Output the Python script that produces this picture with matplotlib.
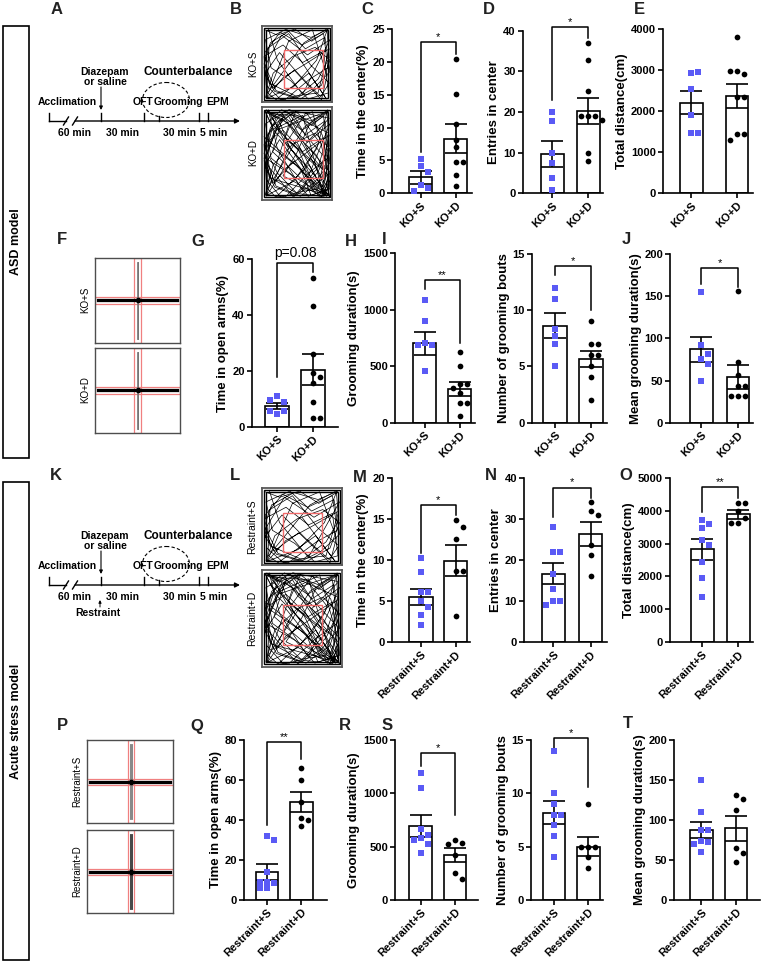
import numpy as np
import matplotlib.pyplot as plt
from matplotlib.patches import Rectangle, Ellipse

plt.rcParams['font.family'] = ['Liberation Sans', 'DejaVu Sans']

W, H = 765, 967
BLUE = '#5a5af5'

# ---- data ----
ko_labels = ['KO+S', 'KO+D']
rs_labels = ['Restraint+S', 'Restraint+D']

# C time in center (%)
c_s = [5.3, 4.2, 3.3, 1.3, 0.8, 0.4]
c_d = [20.4, 15.1, 10.5, 8.2, 7.1, 4.7, 4.7, 2.8, 1.1]
c_mean = [2.44, 8.33]
c_sem = [0.98, 2.25]
# D entries in center
d_s = [20.0, 17.8, 9.8, 7.5, 3.7, 0.8]
d_d = [37.0, 32.9, 25.2, 19.0, 19.0, 19.0, 18.0, 10.0, 8.0]
d_mean = [9.67, 20.25]
d_sem = [3.2, 3.2]
# E total distance (cm)
e_s = [2930, 2960, 2540, 1910, 1470, 1460]
e_d = [3800, 2990, 2910, 2990, 2360, 2340, 1450, 1450, 1290]
e_mean = [2210, 2375]
e_sem = [285, 290]
# G time in open arms (%)
g_s = [11.1, 9.0, 9.4, 4.6, 5.5, 5.6]
g_d = [53.2, 43.2, 26.0, 19.4, 17.7, 15.8, 9.0, 3.0, 3.0]
g_mean = [7.4, 20.5]
g_sem = [1.2, 5.5]
# H grooming duration (s)
h_s = [1087, 903, 709, 688, 688, 458]
h_d = [629, 502, 342, 342, 310, 260, 177, 177, 59]
h_mean = [703, 295]
h_sem = [104, 62]
# I grooming bouts
i_s = [12.0, 11.0, 8.3, 7.7, 7.0, 5.0]
i_d = [9.0, 7.0, 7.0, 6.0, 6.0, 5.0, 4.1, 2.0]
i_mean = [8.63, 5.66]
i_sem = [1.1, 0.7]
# J mean grooming duration (s)
j_s = [155, 92, 76, 81, 70, 49]
j_d = [156, 72, 56, 43, 43, 32, 32, 32]
j_mean = [87, 54.5]
j_sem = [15, 14]
# M time in center (%)
m_s = [10.2, 8.5, 6.1, 6.1, 5.0, 4.3, 3.3, 2.1]
m_d = [14.8, 14.0, 12.6, 8.7, 8.7, 3.2]
m_mean = [5.5, 9.9]
m_sem = [0.95, 1.9]
# N entries in center
n_s = [28, 22, 22, 16.5, 13, 10, 10, 9]
n_d = [34, 32, 31, 23.6, 21.2, 16.1]
n_mean = [16.7, 26.3]
n_sem = [2.5, 2.9]
# O total distance (cm)
o_s = [3700, 3580, 3460, 3100, 2950, 2430, 1960, 1390]
o_d = [4220, 4220, 3990, 3790, 3630, 3630]
o_mean = [2824, 3887]
o_sem = [314, 136]
# Q time in open arms (%)
q_s = [32, 30, 14, 9.2, 8.3, 9.2, 5.8, 5.8]
q_d = [66, 60, 49, 41, 40, 37]
q_mean = [14.2, 49.2]
q_sem = [4.0, 5.0]
# R grooming duration (s)
r_s = [1188, 1053, 663, 609, 578, 563, 525, 444]
r_d = [563, 531, 525, 420, 250, 194]
r_mean = [694, 422]
r_sem = [102, 70]
# S grooming bouts
s_s = [14, 10, 9, 8, 8, 7, 6, 4]
s_d = [9, 5, 5, 5, 4, 3]
s_mean = [8.2, 5.0]
s_sem = [1.07, 0.9]
# T mean grooming duration (s)
t_s = [150, 110, 87.5, 87.5, 74, 72, 70, 60]
t_d = [131, 126, 112, 65, 59, 48]
t_mean = [87.5, 89.6]
t_sem = [10, 15.5]

# brackets: left leg end, top, right leg end, label
c_br = (6.35, 23.1, 21.3, '*')
d_br = (23.0, 41.0, 38.3, '*')
g_br = (17.9, 58.6, 55.6, 'p=0.08')
h_br = (1181, 1264, 703, '**')
i_br = (13.1, 13.93, 10.0, '*')
j_br = (165, 183, 161, '*')
m_br = (10.9, 16.7, 15.5, '*')
n_br = (30.5, 37.6, 35.0, '*')
o_br = (3968, 4727, 4372, '**')
q_br = (37.5, 79.2, 70.3, '**')
r_br = (1256, 1381, 797, '*')
s_br = (14.1, 15.2, 10.6, '*')

# hand-traced open-field tracks (box fractions, y from top)
track_a_x = [0.04, 0.22, 0.47, 0.71, 0.93, 0.96, 0.80, 0.52, 0.27, 0.06, 0.03, 0.30, 0.58, 0.88, 0.95,
             0.66, 0.41, 0.13, 0.05, 0.35, 0.62, 0.90, 0.97, 0.74, 0.49, 0.18, 0.04, 0.25, 0.55, 0.84,
             0.96, 0.70, 0.38, 0.10, 0.07, 0.45, 0.78, 0.94, 0.60, 0.32, 0.08, 0.20, 0.67, 0.92, 0.50]
track_a_y = [0.05, 0.12, 0.04, 0.20, 0.06, 0.42, 0.70, 0.92, 0.97, 0.78, 0.40, 0.25, 0.48, 0.33, 0.88,
             0.96, 0.72, 0.55, 0.18, 0.04, 0.30, 0.15, 0.60, 0.82, 0.95, 0.86, 0.63, 0.35, 0.66, 0.93,
             0.75, 0.52, 0.10, 0.28, 0.95, 0.80, 0.45, 0.03, 0.22, 0.58, 0.88, 0.97, 0.62, 0.96, 0.38]
track_b_x = [0.95, 0.70, 0.40, 0.12, 0.03, 0.20, 0.55, 0.85, 0.97, 0.76, 0.44, 0.16, 0.05, 0.33, 0.68,
             0.94, 0.88, 0.57, 0.26, 0.04, 0.10, 0.48, 0.80, 0.96, 0.62, 0.30, 0.06, 0.38, 0.72, 0.93,
             0.85, 0.46, 0.15, 0.03, 0.28, 0.65, 0.97, 0.58, 0.22, 0.09]
track_b_y = [0.04, 0.15, 0.06, 0.22, 0.50, 0.85, 0.96, 0.78, 0.45, 0.28, 0.40, 0.62, 0.94, 0.97, 0.70,
             0.55, 0.10, 0.25, 0.08, 0.35, 0.75, 0.92, 0.88, 0.30, 0.50, 0.68, 0.96, 0.20, 0.05, 0.65,
             0.97, 0.58, 0.82, 0.55, 0.12, 0.38, 0.18, 0.90, 0.45, 0.03]

fig = plt.figure(figsize=(W / 100, H / 100), dpi=100)
canvas = fig.add_axes([0, 0, 1, 1])
canvas.set_xlim(0, W)
canvas.set_ylim(H, 0)
canvas.axis('off')


def px_axes(x0, y0, x1, y1):
    return fig.add_axes([x0 / W, 1 - y1 / H, (x1 - x0) / W, (y1 - y0) / H])


def swarm(ax, x0, vals, d=7.0):
    # simple beeswarm: shift a point sideways until it does not overlap
    tr = ax.transData
    unit = tr.transform((1, 0))[0] - tr.transform((0, 0))[0]
    placed, xs = [], []
    for v in vals:
        px, py = tr.transform((x0, v))
        for k in [0, 1, -1, 2, -2, 3, -3]:
            xp = px + k * d
            if all((xp - a) ** 2 + (py - b) ** 2 >= (0.95 * d) ** 2 for a, b in placed):
                break
        placed.append((xp, py))
        xs.append(x0 + k * d / unit)
    return xs


def bar_panel(layout, sv, dv, mean, sem, yticks, ylabel, labels, br=None):
    left, right, c1, c2, bw, top, bottom = layout
    ax = px_axes(left, top, right, bottom)
    u = c2 - c1
    ax.set_xlim((left - c1) / u, (right - c1) / u)
    ax.set_ylim(0, yticks[-1])
    ax.bar([0, 1], mean, width=bw / u, color='white', edgecolor='black', linewidth=1.2, zorder=1)
    ax.errorbar([0, 1], mean, yerr=sem, fmt='none', ecolor='black', elinewidth=1.2,
                capsize=8, capthick=1.2, zorder=2)
    ax.scatter(swarm(ax, 0, sv), sv, marker='s', s=22, color=BLUE, linewidths=0, zorder=3, clip_on=False)
    ax.scatter(swarm(ax, 1, dv), dv, marker='o', s=17, color='black', linewidths=0, zorder=3, clip_on=False)
    for sp in ('top', 'right'):
        ax.spines[sp].set_visible(False)
    for sp in ('left', 'bottom'):
        ax.spines[sp].set_linewidth(1.2)
    ax.set_yticks(yticks)
    ax.set_xticks([0, 1])
    ax.set_xticklabels(labels, rotation=45, ha='right', rotation_mode='anchor')
    ax.tick_params(length=3.5, width=1.2, pad=1.5, labelsize=8)
    for t in ax.get_xticklabels() + ax.get_yticklabels():
        t.set_fontweight('bold')
    ax.set_ylabel(ylabel, fontsize=9.5, fontweight='bold', labelpad=2)
    if br is not None:
        lb, tp, rb, lab = br
        ax.plot([0, 0, 1, 1], [lb, tp, tp, rb], color='black', lw=1.1, clip_on=False)
        if lab.startswith('p'):
            ax.annotate(lab, (0.5, tp), xytext=(0, 2), textcoords='offset points',
                        ha='center', va='bottom', fontsize=10, annotation_clip=False)
        else:
            ax.annotate(lab, (0.5, tp), xytext=(0, 0), textcoords='offset points',
                        ha='center', va='bottom', fontsize=8, annotation_clip=False)
    return ax


# row 1
bar_panel((391.7, 472, 420.5, 455.5, 23, 29.3, 193.3), c_s, c_d, c_mean, c_sem,
          [0, 5, 10, 15, 20, 25], 'Time in the center(%)', ko_labels, c_br)
bar_panel((522.7, 603, 552, 588, 23, 30.7, 193.3), d_s, d_d, d_mean, d_sem,
          [0, 10, 20, 30, 40], 'Entries in center', ko_labels, d_br)
bar_panel((662.7, 752.7, 691.3, 737, 22.5, 29.3, 193.3), e_s, e_d, e_mean, e_sem,
          [0, 1000, 2000, 3000, 4000], 'Total distance(cm)', ko_labels)
# row 2
bar_panel((251.7, 338, 277, 313.3, 24, 259.3, 426.7), g_s, g_d, g_mean, g_sem,
          [0, 20, 40, 60], 'Time in open arms(%)', ko_labels, g_br)
bar_panel((395, 475, 424.5, 459.5, 22.5, 253.3, 422.7), h_s, h_d, h_mean, h_sem,
          [0, 500, 1000, 1500], 'Grooming duration(s)', ko_labels, h_br)
bar_panel((531.7, 606.7, 555, 591, 23.5, 254, 422.7), i_s, i_d, i_mean, i_sem,
          [0, 5, 10, 15], 'Number of grooming bouts', ko_labels, i_br)
bar_panel((670, 753, 701.3, 738, 22.7, 254, 422.7), j_s, j_d, j_mean, j_sem,
          [0, 50, 100, 150, 200], 'Mean grooming duration(s)', ko_labels, j_br)
# row 3
bar_panel((391.7, 470, 421, 455.7, 23.3, 477.7, 642.3), m_s, m_d, m_mean, m_sem,
          [0, 5, 10, 15, 20], 'Time in the center(%)', rs_labels, m_br)
bar_panel((524, 606.7, 553.3, 590.8, 23.3, 477.7, 642.3), n_s, n_d, n_mean, n_sem,
          [0, 10, 20, 30, 40], 'Entries in center', rs_labels, n_br)
bar_panel((670, 753, 702, 738.3, 23, 477.7, 642.3), o_s, o_d, o_mean, o_sem,
          [0, 1000, 2000, 3000, 4000, 5000], 'Total distance(cm)', rs_labels, o_br)
# row 4
bar_panel((244, 326.7, 267, 301.3, 22.5, 740, 900), q_s, q_d, q_mean, q_sem,
          [0, 20, 40, 60, 80], 'Time in open arms(%)', rs_labels, q_br)
bar_panel((395, 478, 420.5, 455, 22.3, 740, 900), r_s, r_d, r_mean, r_sem,
          [0, 500, 1000, 1500], 'Grooming duration(s)', rs_labels, r_br)
bar_panel((530.7, 603.3, 553.8, 588.3, 22.5, 740, 900), s_s, s_d, s_mean, s_sem,
          [0, 5, 10, 15], 'Number of grooming bouts', rs_labels, s_br)
bar_panel((674, 760, 701.3, 736, 22.7, 740, 900), t_s, t_d, t_mean, t_sem,
          [0, 50, 100, 150, 200], 'Mean grooming duration(s)', rs_labels)


# open field track boxes
def oft_box(x0, y0, x1, y1, red, dense=False):
    ax = px_axes(x0, y0, x1, y1)
    ax.set_xlim(0, 1)
    ax.set_ylim(1, 0)
    ax.plot(track_a_x, track_a_y, color='black', lw=0.5)
    ax.plot(track_b_x, track_b_y, color='black', lw=0.5)
    if dense:
        ax.plot(track_b_y, track_a_x[:40], color='black', lw=0.5)
        ax.plot(track_a_y, track_b_x + track_b_x[:5], color='black', lw=0.5)
    for ins in (0.03, 0.055):
        ax.add_patch(Rectangle((ins, ins), 1 - 2 * ins, 1 - 2 * ins, fill=False, ec='black', lw=1.0))
    ax.add_patch(Rectangle((red[0], red[2]), red[1] - red[0], red[3] - red[2],
                           fill=False, ec='#f06a6a', lw=1.0, zorder=5))
    ax.set_xticks([])
    ax.set_yticks([])
    for sp in ax.spines.values():
        sp.set_color('0.35')
        sp.set_linewidth(1.3)


oft_box(262, 26, 332, 102, (0.31, 0.87, 0.32, 0.82))
oft_box(262, 107, 332, 200, (0.31, 0.87, 0.35, 0.76), dense=True)
oft_box(262, 488, 342, 565, (0.26, 0.75, 0.32, 0.83))
oft_box(262, 570, 342, 667, (0.26, 0.75, 0.36, 0.77), dense=True)


# elevated plus maze boxes
def epm_box(x0, y0, x1, y1, vx, hy, open_dark=False):
    ax = px_axes(x0, y0, x1, y1)
    ax.set_xlim(0, 1)
    ax.set_ylim(1, 0)
    xc = (vx[0] + vx[1]) / 2
    yc = (hy[0] + hy[1]) / 2
    for off in (-0.012, 0.0, 0.012):
        ax.plot([0.02, 0.98], [yc + off, yc + off], color='black', lw=0.9)
    vcol = '0.15' if open_dark else '0.45'
    for off in (-0.01, 0.0, 0.01):
        ax.plot([xc + off, xc + off], [0.05, 0.95], color=vcol, lw=0.6)
    ax.plot([xc], [yc], 'o', color='black', ms=3)
    ax.add_patch(Rectangle((vx[0], 0.0), vx[1] - vx[0], 1.0, fill=False, ec='#f08080', lw=0.9))
    ax.add_patch(Rectangle((0.0, hy[0]), 1.0, hy[1] - hy[0], fill=False, ec='#f08080', lw=0.9))
    ax.set_xticks([])
    ax.set_yticks([])
    for sp in ax.spines.values():
        sp.set_color('0.3')
        sp.set_linewidth(1.0)


epm_box(95, 258, 180, 343, (0.46, 0.54), (0.455, 0.54))
epm_box(95, 348, 180, 433, (0.46, 0.54), (0.455, 0.54))
epm_box(87, 740, 173, 823, (0.48, 0.55), (0.47, 0.54))
epm_box(87, 830, 173, 913, (0.48, 0.55), (0.47, 0.54), open_dark=True)

# ---- schematic parts on the full-figure canvas ----
canvas.add_patch(Rectangle((3, 26), 26, 432, fill=False, ec='black', lw=1.2))
canvas.text(16, 242, 'ASD model', rotation=90, ha='center', va='center', fontsize=9, fontweight='bold')
canvas.add_patch(Rectangle((3, 482), 26, 478, fill=False, ec='black', lw=1.2))
canvas.text(16, 721, 'Acute stress model', rotation=90, ha='center', va='center', fontsize=9, fontweight='bold')


def timeline(y0, restraint=False):
    c = canvas
    lw = 1.0
    c.plot([49, 49], [y0 - 8, y0], color='black', lw=lw)
    c.plot([49, 66], [y0, y0], color='black', lw=lw)
    c.annotate('', xy=(240, y0), xytext=(75, y0),
               arrowprops=dict(arrowstyle='-|>', color='black', lw=lw, mutation_scale=7, shrinkA=0, shrinkB=0))
    for xb in (66, 75):
        c.plot([xb - 2.5, xb + 2.5], [y0 + 4, y0 - 4], color='black', lw=lw)
    for xt in (101, 144, 199, 208):
        c.plot([xt, xt], [y0 - 8, y0], color='black', lw=lw)
    c.plot([159, 159], [y0 - 5, y0], color='black', lw=lw)
    c.annotate('', xy=(101, y0 - 11), xytext=(101, y0 - 34),
               arrowprops=dict(arrowstyle='-|>', color='black', lw=0.8, mutation_scale=5, shrinkA=0, shrinkB=0))
    c.add_patch(Ellipse((166, y0 - 21), 47, 35, fill=False, ec='black', lw=0.8, ls=(0, (3, 2))))
    kw = dict(ha='center', va='center', fontsize=7.5, fontweight='bold')
    c.text(105, y0 - 49, 'Diazepam', **kw)
    c.text(105, y0 - 39, 'or saline', **kw)
    c.text(188, y0 - 49, 'Counterbalance', ha='center', va='center', fontsize=8.5, fontweight='bold')
    c.text(67, y0 - 19, 'Acclimation', **kw)
    c.text(143, y0 - 19, 'OFT', **kw)
    c.text(178, y0 - 19, 'Grooming', **kw)
    c.text(218, y0 - 19, 'EPM', **kw)
    c.text(75, y0 + 12, '60 min', **kw)
    c.text(123, y0 + 12, '30 min', **kw)
    c.text(180, y0 + 12, '30 min', **kw)
    c.text(214, y0 + 12, '5 min', **kw)
    if restraint:
        c.annotate('', xy=(100, y0 + 15), xytext=(100, y0 + 22),
                   arrowprops=dict(arrowstyle='-|>', color='black', lw=0.7, mutation_scale=4, shrinkA=0, shrinkB=0))
        c.text(98, y0 + 28, 'Restraint', **kw)


timeline(121)
timeline(585, restraint=True)

# image labels
canvas.text(253, 64, 'KO+S', rotation=90, ha='center', va='center', fontsize=7)
canvas.text(253, 153, 'KO+D', rotation=90, ha='center', va='center', fontsize=7)
canvas.text(252, 527, 'Restraint+S', rotation=90, ha='center', va='center', fontsize=7.5)
canvas.text(252, 618, 'Restraint+D', rotation=90, ha='center', va='center', fontsize=7.5)
canvas.text(85, 300, 'KO+S', rotation=90, ha='center', va='center', fontsize=7)
canvas.text(85, 390, 'KO+D', rotation=90, ha='center', va='center', fontsize=7)
canvas.text(77, 781, 'Restraint+S', rotation=90, ha='center', va='center', fontsize=7)
canvas.text(77, 871, 'Restraint+D', rotation=90, ha='center', va='center', fontsize=7)
canvas.text(145, 277, 'open arms', rotation=-90, ha='center', va='center', fontsize=4.5, color='0.25')
canvas.text(142, 310, 'close arms', ha='left', va='center', fontsize=5, color='0.25')
canvas.text(139, 760, 'open arms', rotation=-90, ha='center', va='center', fontsize=4.5, color='0.25')
canvas.text(135, 790, 'close arms', ha='left', va='center', fontsize=5, color='0.25')

# panel letters
letters = {'A': (57, 10), 'B': (236, 10), 'C': (367, 10), 'D': (489, 10), 'E': (639, 10),
           'F': (62, 240), 'G': (198, 241), 'H': (351, 241), 'I': (384, 240), 'J': (626, 239),
           'K': (56, 476), 'L': (235, 476), 'M': (360, 478), 'N': (491, 475), 'O': (626, 475),
           'P': (62, 726), 'Q': (197, 726), 'R': (345, 726), 'S': (387, 725), 'T': (628, 723)}
for k, (x, y) in letters.items():
    canvas.text(x, y, k, ha='center', va='center', fontsize=12, fontweight='bold', color='#222222')

fig.savefig('out.png', dpi=100)
